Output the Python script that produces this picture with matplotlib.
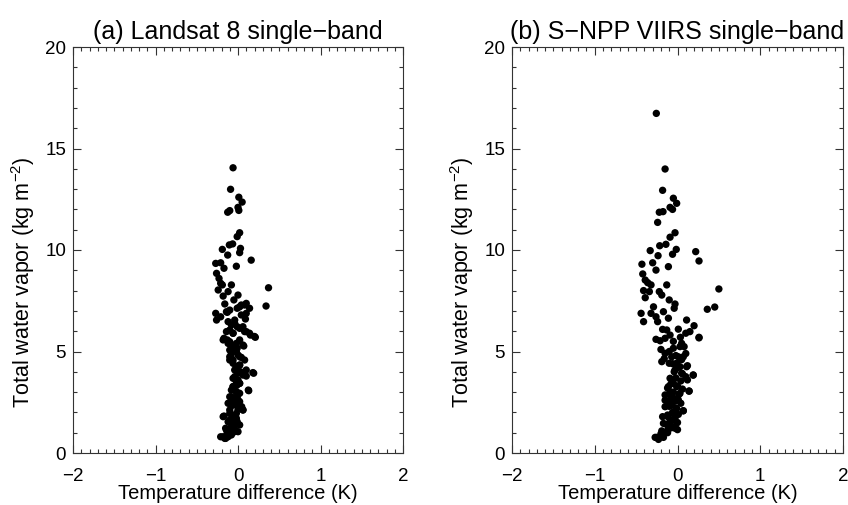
import matplotlib
matplotlib.use("Agg")
import matplotlib.pyplot as plt
from matplotlib.ticker import MultipleLocator

plt.rcParams['font.family'] = ['Liberation Sans', 'DejaVu Sans']
plt.rcParams['mathtext.fontset'] = 'custom'
plt.rcParams['mathtext.rm'] = 'Liberation Sans'

titles = ["(a) Landsat 8 single\u2212band", "(b) S\u2212NPP VIIRS single\u2212band"]
xlabel = "Temperature difference (K)"
ylabel = "Total water vapor (kg m$^{\u22122}$)"
x_ticks = [-2, -1, 0, 1, 2]
x_ticklabels = ["\u22122", "\u22121", "0", "1", "2"]
y_ticks = [0, 5, 10, 15, 20]

# Panel (a): Landsat 8 (temperature difference K, water vapour kg m-2)
landsat_x = [-0.06, -0.09, 0.01, 0.05, 0.0, 0.01, -0.1, -0.125, 0.02, -0.01,
             -0.065, -0.105, -0.19, 0.03, 0.02, -0.125, 0.16, -0.27, -0.21, -0.17,
             -0.02, -0.26, -0.23, -0.21, -0.19, 0.37, -0.08, -0.24, -0.18, -0.12,
             0.0, -0.05, 0.34, -0.16, -0.1, -0.13, -0.01, 0.04, 0.1, 0.14,
             -0.27, -0.26, -0.21, -0.12, -0.08, -0.04, -0.01, 0.09, -0.1, -0.06,
             0.02, 0.1, 0.15, 0.21, -0.17, -0.13, -0.1, -0.08, 0.02, 0.07,
             -0.06, -0.01, -0.08, -0.1, -0.06, -0.1, 0.0, 0.04, -0.02, 0.02,
             -0.04, 0.0, 0.03, 0.06, 0.1, 0.19, -0.06, -0.02, -0.01, 0.02,
             -0.06, -0.08, -0.02, 0.02, 0.13, -0.1, -0.06, -0.01, 0.02, -0.12,
             -0.08, -0.02, 0.06, 0.0, -0.17, -0.1, -0.06, -0.02, -0.12, -0.065,
             -0.01, 0.02, -0.15, -0.1, -0.04, 0.0, -0.13, -0.08, -0.21, -0.16,
             -0.12, -0.06,
             -0.14, 0.02, 0.08, 0.1, 0.04, -0.04, 0.06,
             -0.14, -0.06, 0.08, 0.14, 0.2, -0.18, -0.12, -0.02, 0.06,
             -0.1, -0.02, 0.02, -0.08, -0.06, 0.02, 0.08, 0.1, 0.18,
             -0.04, 0.0, -0.06, 0.02, -0.02, 0.125, -0.08, 0.0, -0.06, 0.045,
             0.06, -0.02, -0.1, -0.18, -0.1, -0.02, -0.08, -0.14, -0.04, -0.18,
             -0.1, -0.15]
landsat_y = [14.05, 12.99, 12.6, 12.36, 12.1, 11.95, 11.94, 11.86, 10.85, 10.66,
             10.3, 10.25, 10.03, 10.08, 9.87, 9.75, 9.5, 9.34, 9.37, 9.1,
             9.2, 8.85, 8.6, 8.36, 8.28, 8.14, 8.28, 8.03, 7.73, 7.95,
             7.78, 7.54, 7.24, 7.34, 7.04, 6.93, 7.13, 7.29, 7.37, 7.13,
             6.88, 6.55, 6.71, 6.47, 6.31, 6.55, 6.22, 6.6, 6.06, 5.9,
             6.14, 5.98, 5.81, 5.7, 5.65, 5.57, 5.48, 5.32, 5.57, 5.27,
             5.07, 5.16, 4.91, 4.74, 4.58, 4.58, 4.83, 4.71, 4.25, 4.33,
             4.09, 3.93, 4.0, 3.84, 3.79, 3.93, 3.68, 3.51, 3.35, 3.43,
             3.27, 3.1, 3.02, 2.94, 3.07, 2.77, 2.64, 2.77, 2.53, 2.45,
             2.32, 2.36, 2.12, 2.15, 1.82, 1.95, 1.79, 1.71, 1.54, 1.46,
             1.54, 1.38, 1.22, 1.13, 1.17, 1.05, 0.97, 0.89, 0.8, 0.72,
             0.8, 1.05,
             6.96, 7.2, 7.29, 6.88, 6.8, 6.39, 6.22,
             5.98, 5.9, 5.98, 5.9, 5.74, 5.57, 5.4, 5.4, 5.32,
             5.07, 4.99, 4.74, 4.66, 4.42, 4.33, 4.58, 4.09, 3.96,
             3.76, 3.6, 3.27, 3.43, 3.02, 3.1, 2.77, 2.61, 2.45, 2.28,
             2.12, 1.95, 2.12, 1.79, 1.63, 1.46, 1.3, 1.13, 1.05, 0.8,
             0.89, 0.72]

# Panel (b): S-NPP VIIRS
viirs_x = [-0.256, -0.15, -0.18, -0.05, -0.01, -0.09, -0.06, -0.22, -0.175, -0.24,
           -0.03, -0.09, -0.215, -0.14, -0.33, -0.015, -0.06, -0.235, 0.22, 0.26,
           -0.43, -0.3, -0.26, -0.11, -0.42, -0.39, -0.36, -0.32, -0.34, -0.41,
           -0.39, -0.13, 0.5, -0.22, -0.19, -0.1, -0.03, -0.04, -0.17, -0.11,
           0.45, 0.36, -0.29, -0.32, -0.26, -0.44, -0.41, -0.24, -0.18, -0.13,
           -0.26, -0.21, -0.15, -0.09, 0.01, 0.11, 0.2, 0.15, 0.1, 0.035,
           0.26, -0.05, 0.03, 0.08, -0.15, -0.07, 0.01, 0.07, -0.19, -0.10,
           -0.01, 0.03, 0.11, -0.03, 0.05, 0.10, 0.19,
           -0.09, -0.05, -0.11, -0.01, 0.03, -0.09, -0.15, -0.05, -0.11, 0.01,
           -0.07, -0.15, -0.01, -0.05, -0.12, 0.07, 0.14,
           -0.18, -0.09, -0.03, -0.17, -0.115, -0.03, -0.19, -0.13, -0.25, -0.17,
           -0.27, -0.23, -0.18, -0.115, -0.03, 0.07, 0.14, 0.19, 0.26,
           -0.1, -0.02, 0.05, -0.06, 0.0, -0.04, 0.06, -0.02, 0.04, -0.08,
           0.0, 0.06, -0.05, 0.02, -0.08, 0.0, -0.03, 0.04, -0.1, -0.02,
           -0.06, 0.01, -0.12, -0.04, -0.08, 0.0, -0.13, -0.07, 0.0, -0.12,
           -0.2, 0.1, 0.12, 0.12, -0.2, -0.16, -0.12, -0.15, 0.05, -0.05]
viirs_y = [16.73, 13.99, 12.94, 12.55, 12.3, 12.1, 12.0, 11.86, 11.89, 11.36,
           10.85, 10.63, 10.21, 10.28, 9.97, 10.03, 9.79, 9.72, 9.92, 9.46,
           9.3, 9.37, 9.01, 9.18, 8.82, 8.52, 8.39, 8.28, 7.95, 8.0,
           7.65, 8.28, 8.08, 7.95, 7.78, 7.54, 7.34, 7.13, 6.96, 6.64,
           7.19, 7.08, 7.2, 6.88, 6.71, 6.88, 6.47, 6.47, 6.09, 6.06,
           5.6, 5.53, 5.65, 5.81, 6.1, 6.55, 6.27, 5.98, 5.9, 5.7,
           5.67, 5.16, 5.24, 5.24, 4.91, 4.74, 4.74, 4.74, 4.5, 4.42,
           4.42, 4.25, 4.25, 4.09, 3.93, 3.76, 3.84,
           3.68, 3.43, 3.27, 3.27, 2.94, 3.02, 2.86, 2.69, 2.53, 2.61,
           2.36, 2.28, 2.2, 1.95, 1.87, 2.08, 3.05,
           1.79, 1.63, 1.71, 1.46, 1.38, 1.3, 1.09, 1.05, 0.77, 0.77,
           0.77, 0.67, 0.89, 1.13, 1.22, 2.08, 3.05, 3.84, 5.7,
           5.0, 4.8, 4.6, 4.4, 4.2, 4.0, 3.9, 3.7, 3.55, 3.4,
           3.3, 3.15, 3.0, 2.9, 2.75, 2.7, 2.55, 2.45, 2.3, 2.2,
           2.0, 1.9, 1.8, 1.7, 1.55, 1.5, 1.4, 1.25, 1.15, 1.0,
           0.95, 4.9, 4.3, 3.6, 5.1, 4.65, 3.2, 2.6, 5.4, 5.5]

fig = plt.figure(figsize=(8.48, 5.05), dpi=100)
positions = [[73/848, 52/505, 330/848, 406/505],
             [512/848, 52/505, 331/848, 406/505]]
datasets = [(landsat_x, landsat_y), (viirs_x, viirs_y)]

for pos, (xs, ys), title in zip(positions, datasets, titles):
    ax = fig.add_axes(pos)
    ax.scatter(xs, ys, s=28, c='black', edgecolors='none', zorder=3)
    ax.set_xlim(-2, 2)
    ax.set_ylim(0, 20)
    ax.set_xticks(x_ticks)
    ax.set_xticklabels(x_ticklabels)
    ax.set_yticks(y_ticks)
    ax.xaxis.set_minor_locator(MultipleLocator(0.1))
    ax.yaxis.set_minor_locator(MultipleLocator(1))
    ax.tick_params(which='both', direction='in', top=True, right=True,
                   width=0.8, color='#333333', labelsize=13.5)
    ax.tick_params(which='major', length=6)
    ax.tick_params(which='minor', length=3)
    ax.tick_params(axis='x', which='major', pad=11)
    ax.tick_params(axis='y', which='major', pad=5)
    for sp in ax.spines.values():
        sp.set_linewidth(0.8)
        sp.set_color('#333333')
    ax.set_title(title, fontsize=18, pad=6)
    ax.set_xlabel(xlabel, fontsize=14.5, labelpad=-1)
    ax.set_ylabel(ylabel, fontsize=15.5, labelpad=4)
    ax.yaxis.set_label_coords(-0.11, 0.42)

fig.savefig("out.png", dpi=100)
